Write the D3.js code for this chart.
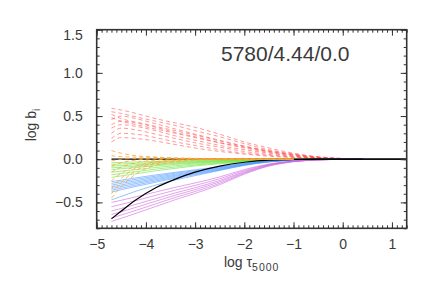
<!DOCTYPE html>
<html>
<head>
<meta charset="utf-8">
<script src="https://cdn.jsdelivr.net/npm/d3@7"></script>
<style>
  html, body { margin: 0; padding: 0; background: #fff; }
  svg { display: block; }
  text { font-family: "Liberation Sans", Arial, sans-serif; fill: #3a3a3a; }
</style>
</head>
<body>
<svg id="chart" width="436" height="290"></svg>
<script>
// ---------------- data ----------------
const logTau = [-4.7, -4.5, -4.2, -3.8, -3.4, -3.0, -2.5, -2.0, -1.5, -1.0, -0.5, 0.0, 0.4];

const xTicks = [-5, -4, -3, -2, -1, 0, 1];
const yTicks = [-0.5, 0.0, 0.5, 1.0, 1.5];

const redSeries = [
  [0.59, 0.57, 0.53, 0.47, 0.42, 0.37, 0.29, 0.20, 0.13, 0.07, 0.03, 0.01, null],
  [0.55, 0.53, 0.49, 0.44, 0.39, 0.33, 0.26, 0.18, 0.11, 0.06, 0.025, 0.008, null],
  [0.52, 0.47, 0.43, 0.38, 0.33, 0.28, 0.21, 0.15, 0.10, 0.055, 0.022, 0.006, null],
  [0.48, 0.44, 0.40, 0.35, 0.30, 0.25, 0.19, 0.14, 0.09, 0.05, 0.02, 0.005, null],
  [0.46, 0.50, 0.47, 0.41, 0.35, 0.29, 0.22, 0.15, 0.09, 0.05, 0.02, 0.006, null],
  [0.40, 0.44, 0.42, 0.37, 0.31, 0.26, 0.19, 0.13, 0.08, 0.04, 0.018, 0.005, null],
  [0.36, 0.40, 0.38, 0.33, 0.27, 0.22, 0.16, 0.11, 0.07, 0.035, 0.015, 0.004, null],
  [0.30, 0.36, 0.34, 0.29, 0.24, 0.19, 0.14, 0.09, 0.055, 0.03, 0.012, 0.003, null],
  [0.24, 0.30, 0.29, 0.25, 0.20, 0.16, 0.11, 0.07, 0.045, 0.025, 0.01, 0.003, null],
  [0.20, 0.25, 0.24, 0.21, 0.17, 0.13, 0.09, 0.06, 0.035, 0.02, 0.008, 0.002, null]
];

const orangeSeries = [
  [0.10, 0.07, 0.04, 0.025, 0.015, 0.01, 0.005, 0.002, 0.0, 0.0, null, null, null],
  [0.04, 0.03, 0.025, 0.02, 0.012, 0.008, 0.004, 0.002, 0.0, 0.0, null, null, null],
  [-0.02, 0.0, 0.01, 0.012, 0.01, 0.006, 0.003, 0.001, 0.0, 0.0, null, null, null],
  [-0.08, -0.04, -0.01, 0.005, 0.008, 0.005, 0.003, 0.001, 0.0, 0.0, null, null, null],
  [-0.15, -0.09, -0.04, -0.01, 0.003, 0.004, 0.002, 0.001, 0.0, 0.0, null, null, null],
  [-0.25, -0.16, -0.08, -0.03, -0.005, 0.002, 0.002, 0.001, 0.0, 0.0, null, null, null],
  [-0.34, -0.22, -0.10, -0.04, -0.012, 0.0, 0.001, 0.0, 0.0, 0.0, null, null, null],
  [-0.40, -0.27, -0.13, -0.05, -0.02, -0.004, 0.0, 0.0, 0.0, 0.0, null, null, null],
  [-0.45, -0.32, -0.17, -0.07, -0.03, -0.008, -0.002, 0.0, 0.0, 0.0, null, null, null]
];

const greenSeries = [
  [-0.04, -0.037, -0.032, -0.026, -0.02, -0.015, -0.01, -0.006, -0.003, -0.001, 0, 0, 0],
  [-0.06, -0.055, -0.048, -0.038, -0.03, -0.022, -0.015, -0.009, -0.004, -0.0015, 0, 0, 0],
  [-0.08, -0.074, -0.064, -0.051, -0.04, -0.03, -0.02, -0.012, -0.006, -0.002, -0.001, 0, 0],
  [-0.10, -0.092, -0.08, -0.064, -0.05, -0.037, -0.025, -0.015, -0.007, -0.0025, -0.001, 0, 0],
  [-0.12, -0.11, -0.096, -0.077, -0.06, -0.044, -0.03, -0.018, -0.008, -0.003, -0.001, 0, 0],
  [-0.15, -0.138, -0.12, -0.096, -0.075, -0.055, -0.038, -0.022, -0.01, -0.004, -0.001, 0, 0],
  [-0.18, -0.166, -0.144, -0.115, -0.09, -0.067, -0.045, -0.027, -0.013, -0.0045, -0.0015, 0, 0],
  [-0.21, -0.193, -0.168, -0.134, -0.105, -0.078, -0.053, -0.032, -0.015, -0.005, -0.002, 0, 0]
];

const blueSeries = [
  [-0.26, -0.242, -0.216, -0.182, -0.151, -0.122, -0.086, -0.047, -0.021, -0.0065, -0.002, 0, 0],
  [-0.28, -0.26, -0.232, -0.196, -0.162, -0.132, -0.092, -0.05, -0.022, -0.007, -0.002, 0, 0],
  [-0.30, -0.279, -0.249, -0.21, -0.174, -0.141, -0.099, -0.054, -0.024, -0.0075, -0.002, 0, 0],
  [-0.32, -0.298, -0.266, -0.224, -0.186, -0.15, -0.106, -0.058, -0.026, -0.008, -0.002, 0, 0],
  [-0.34, -0.316, -0.282, -0.238, -0.197, -0.16, -0.112, -0.061, -0.027, -0.0085, -0.002, 0, 0],
  [-0.36, -0.335, -0.299, -0.252, -0.209, -0.169, -0.119, -0.065, -0.029, -0.009, -0.0025, 0, 0],
  [-0.38, -0.353, -0.315, -0.266, -0.22, -0.179, -0.125, -0.068, -0.03, -0.0095, -0.0025, 0, 0],
  [-0.47, -0.43, -0.37, -0.30, -0.24, -0.19, -0.13, -0.072, -0.032, -0.01, -0.003, 0, 0]
];

const purpleSeries = [
  [-0.50, -0.475, -0.435, -0.38, -0.325, -0.275, -0.205, -0.12, -0.055, -0.02, -0.006, -0.001, 0],
  [-0.55, -0.523, -0.479, -0.418, -0.358, -0.303, -0.226, -0.132, -0.06, -0.022, -0.0066, -0.001, 0],
  [-0.60, -0.57, -0.522, -0.456, -0.39, -0.33, -0.246, -0.144, -0.066, -0.024, -0.007, -0.001, 0],
  [-0.64, -0.608, -0.557, -0.486, -0.416, -0.352, -0.262, -0.154, -0.07, -0.026, -0.008, -0.001, 0],
  [-0.68, -0.646, -0.592, -0.517, -0.442, -0.374, -0.279, -0.163, -0.075, -0.027, -0.008, -0.001, 0],
  [-0.72, -0.684, -0.626, -0.547, -0.468, -0.396, -0.295, -0.173, -0.079, -0.029, -0.009, -0.0015, 0]
];

const blackCurve = [-0.69, -0.60, -0.47, -0.33, -0.23, -0.15, -0.08, -0.035, -0.01, -0.003, 0, 0, 0];

const zeroLineX = [-4.7, 1.3];
const zeroLineY = [0, 0];

const modelLabel = "5780/4.44/0.0";

// ---------------- layout ----------------
const W = 436, H = 290;
const margin = { left: 96.7, right: 29.3, top: 29.7, bottom: 61.7 };
const svg = d3.select("#chart");

const x = d3.scaleLinear().domain([-5, 1.3]).range([margin.left, W - margin.right]);
const y = d3.scaleLinear().domain([-0.8, 1.5]).range([H - margin.bottom, margin.top]);

svg.append("clipPath").attr("id", "plotclip").append("rect")
  .attr("x", x(-5)).attr("y", y(1.5))
  .attr("width", x(1.3) - x(-5)).attr("height", y(-0.8) - y(1.5));

const plot = svg.append("g").attr("clip-path", "url(#plotclip)");

const line = d3.line()
  .defined(d => d.v !== null)
  .x(d => x(d.t))
  .y(d => y(d.v))
  .curve(d3.curveMonotoneX);

function toPts(vals) { return vals.map((v, i) => ({ t: logTau[i], v: v })); }

function drawGroup(series, color, dash, width, opacity) {
  plot.append("g").selectAll("path").data(series).join("path")
    .attr("d", s => line(toPts(s)))
    .attr("fill", "none")
    .attr("stroke", color)
    .attr("stroke-width", width)
    .attr("stroke-opacity", opacity)
    .attr("stroke-dasharray", dash);
}

drawGroup(redSeries, "#ff4848", "4,3", 0.7, 0.8);
drawGroup(greenSeries, "#6ee03a", null, 0.7, 0.85);
drawGroup(blueSeries, "#4a98ff", null, 0.7, 0.85);
drawGroup(purpleSeries, "#cc66dd", null, 0.7, 0.85);

// black curve
plot.append("path")
  .attr("d", line(toPts(blackCurve).concat([{ t: 1.3, v: 0 }])))
  .attr("fill", "none").attr("stroke", "#000").attr("stroke-width", 1.2);

// zero reference line
plot.append("path")
  .attr("d", d3.line().x(d => x(d[0])).y(d => y(d[1]))(zeroLineX.map((t, i) => [t, zeroLineY[i]])))
  .attr("fill", "none").attr("stroke", "#000").attr("stroke-width", 1.2);

drawGroup(orangeSeries, "#ffa830", "4,3", 0.9, 0.9);

// ---------------- axes ----------------
const xMinor = d3.range(-5, 1.3001, 0.1).map(v => Math.round(v * 10) / 10);
const yMinor = d3.range(-0.8, 1.5001, 0.1).map(v => Math.round(v * 10) / 10);
const fmtY = d3.format(".1f");

function axisStyle(g) {
  g.select(".domain").remove();
  g.selectAll(".tick line").attr("stroke", "#333").attr("stroke-width", 1);
  g.selectAll("text").style("font-size", "14px").attr("fill", "#3a3a3a");
}

// bottom
svg.append("g").attr("transform", `translate(0,${y(-0.8)})`)
  .call(d3.axisBottom(x).tickValues(xMinor).tickSize(-3).tickFormat(""))
  .call(axisStyle);
svg.append("g").attr("transform", `translate(0,${y(-0.8)})`)
  .call(d3.axisBottom(x).tickValues(xTicks).tickSize(-6).tickPadding(11).tickFormat(d3.format("d")))
  .call(axisStyle);
// top
svg.append("g").attr("transform", `translate(0,${y(1.5)})`)
  .call(d3.axisTop(x).tickValues(xMinor).tickSize(-3).tickFormat(""))
  .call(axisStyle);
svg.append("g").attr("transform", `translate(0,${y(1.5)})`)
  .call(d3.axisTop(x).tickValues(xTicks).tickSize(-6).tickFormat(""))
  .call(axisStyle);
// left
svg.append("g").attr("transform", `translate(${x(-5)},0)`)
  .call(d3.axisLeft(y).tickValues(yMinor).tickSize(-3).tickFormat(""))
  .call(axisStyle);
const yAx = svg.append("g").attr("transform", `translate(${x(-5)},0)`)
  .call(d3.axisLeft(y).tickValues(yTicks).tickSize(-6).tickPadding(14).tickFormat(fmtY))
  .call(axisStyle);
yAx.selectAll(".tick").filter(d => d === 1.5).select("text").attr("dy", "0.72em");
// right
svg.append("g").attr("transform", `translate(${x(1.3)},0)`)
  .call(d3.axisRight(y).tickValues(yMinor).tickSize(-3).tickFormat(""))
  .call(axisStyle);
svg.append("g").attr("transform", `translate(${x(1.3)},0)`)
  .call(d3.axisRight(y).tickValues(yTicks).tickSize(-6).tickFormat(""))
  .call(axisStyle);

// frame
svg.append("rect")
  .attr("x", x(-5)).attr("y", y(1.5))
  .attr("width", x(1.3) - x(-5)).attr("height", y(-0.8) - y(1.5))
  .attr("fill", "none").attr("stroke", "#333").attr("stroke-width", 1.6);

// axis titles
const xt = svg.append("text")
  .attr("x", (x(-5) + x(1.3)) / 2).attr("y", 267)
  .attr("text-anchor", "middle").style("font-size", "14px");
xt.append("tspan").text("log \u03C4");
xt.append("tspan").attr("dy", 4).style("font-size", "10.5px").attr("letter-spacing", "1").text("5000");

const yt = svg.append("text")
  .attr("transform", `translate(36,${(y(-0.8) + y(1.5)) / 2 - 4}) rotate(-90)`)
  .attr("text-anchor", "middle").style("font-size", "14px");
yt.append("tspan").text("log b");
yt.append("tspan").attr("dy", 4).style("font-size", "10.5px").text("i");

// model label
svg.append("text")
  .attr("x", 221).attr("y", 61)
  .style("font-size", "21px").attr("fill", "#3a3a3a")
  .text(modelLabel);
</script>
</body>
</html>
